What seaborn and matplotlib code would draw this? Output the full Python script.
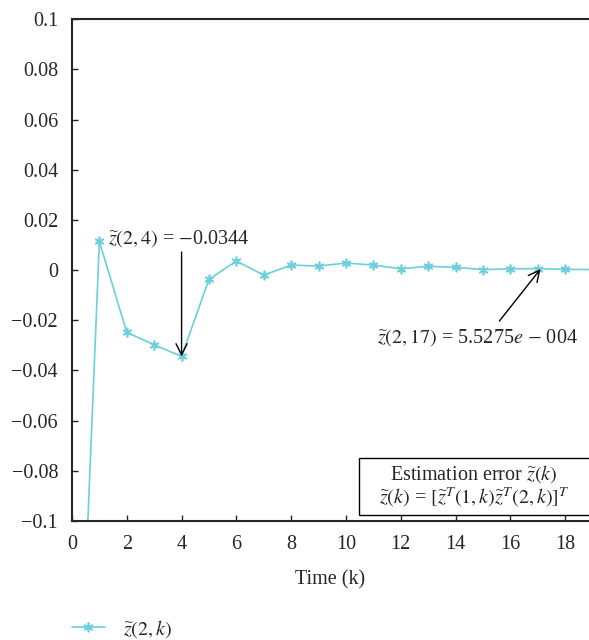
import numpy as np
import pandas as pd
import matplotlib
matplotlib.use("Agg")
import matplotlib.pyplot as plt
from matplotlib.patches import Rectangle
import seaborn as sns

sns.set_style("ticks")
plt.rcParams["font.family"] = ["Liberation Serif", "DejaVu Serif"]
plt.rcParams["mathtext.fontset"] = "stix"

# estimation error of second state
k = list(range(0, 20))
z2 = [-0.254, 0.0114, -0.0248, -0.0298, -0.0344, -0.0037, 0.0036, -0.0020,
      0.0020, 0.0016, 0.0028, 0.0020, 0.0005, 0.0015, 0.0011, 0.0002,
      0.0005, 0.00055, 0.0003, 0.0002]
xticks = [0, 2, 4, 6, 8, 10, 12, 14, 16, 18]
yticks = [-0.1, -0.08, -0.06, -0.04, -0.02, 0, 0.02, 0.04, 0.06, 0.08, 0.1]
ytick_labels = ["\u22120.1", "\u22120.08", "\u22120.06", "\u22120.04", "\u22120.02",
                "0", "0.02", "0.04", "0.06", "0.08", "0.1"]

df = pd.DataFrame({"k": k, "z": z2})
color = "#6CCFDC"
fs = 14.5

fig = plt.figure(figsize=(5.89, 6.4), dpi=100)
ax = fig.add_axes([0.1222, 0.186, 0.8778, 0.784])

sns.lineplot(data=df, x="k", y="z", ax=ax, color=color, marker=(6, 2, 0),
             markersize=7, markeredgecolor=color, markeredgewidth=1.2,
             linewidth=1.2, label=r"$\widetilde{z}(2,k)$", legend=False)

ax.set_xlim(0, 18.87)
ax.set_ylim(-0.1, 0.1)
ax.set_xticks(xticks)
ax.set_yticks(yticks)
ax.set_yticklabels(ytick_labels)
ax.tick_params(direction="in", length=4, width=1, labelsize=fs, pad=10)
ax.set_xlabel("Time (k)", fontsize=fs, labelpad=12)
ax.set_ylabel("")
for s in ["left", "bottom", "top"]:
    ax.spines[s].set_linewidth(1.5)
ax.spines["right"].set_visible(False)

arrow = dict(arrowstyle="->", color="black", lw=1, mutation_scale=20,
             shrinkA=0, shrinkB=0)

ax.text(1.3, 0.0124, r"$\widetilde{z}(2,4)$ = $-$0.0344", fontsize=fs,
        va="center", ha="left")
ax.annotate("", xy=(4, z2[4]), xytext=(4, 0.0072), arrowprops=arrow)

ax.text(11.12, -0.0267, r"$\widetilde{z}(2,17)$ = 5.5275$e$ $-$ 004",
        fontsize=fs, va="center", ha="left")
ax.annotate("", xy=(17.1, 0.0004), xytext=(15.6, -0.0203), arrowprops=arrow)

# info box in the lower right corner (cut by the figure edge)
ax.add_patch(Rectangle((0.555, 0.012), 0.5, 0.1135, transform=ax.transAxes,
                       facecolor="white", edgecolor="black", linewidth=1,
                       clip_on=False, zorder=5))
ax.text(0.778, 0.0936, "Estimation error $\\widetilde{z}(k)$",
        transform=ax.transAxes, ha="center", va="center", fontsize=fs, zorder=6)
ax.text(0.778, 0.046,
        "$\\widetilde{z}(k)$ = $[\\widetilde{z}^T(1,k)\\widetilde{z}^T(2,k)]^T$",
        transform=ax.transAxes, ha="center", va="center", fontsize=fs, zorder=6)

handles, labels = ax.get_legend_handles_labels()
fig.legend(handles, labels, loc="lower left", bbox_to_anchor=(0.092, -0.028),
           frameon=False, fontsize=fs, handlelength=1.6, handletextpad=0.9)

fig.savefig("out.png", dpi=100)
